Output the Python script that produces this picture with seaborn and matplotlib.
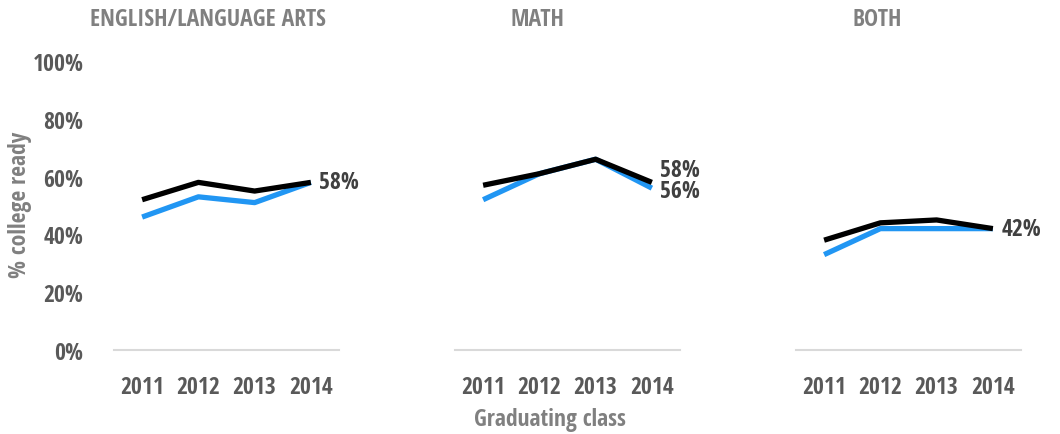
import numpy as np
import pandas as pd
import matplotlib
matplotlib.use("Agg")
import matplotlib.pyplot as plt
from matplotlib import font_manager
import seaborn as sns

years = ["2011", "2012", "2013", "2014"]
subjects = ["ENGLISH/LANGUAGE ARTS", "MATH", "BOTH"]
blue_series = {
    "ENGLISH/LANGUAGE ARTS": [46, 53, 51, 58],
    "MATH": [52, 61, 66, 56],
    "BOTH": [33, 42, 42, 42],
}
black_series = {
    "ENGLISH/LANGUAGE ARTS": [52, 58, 55, 58],
    "MATH": [57, 61, 66, 58],
    "BOTH": [38, 44, 45, 42],
}
y_ticks = [0, 20, 40, 60, 80, 100]
y_tick_labels = ["0%", "20%", "40%", "60%", "80%", "100%"]

sns.set_theme(style="white")
names = {f.name for f in font_manager.fontManager.ttflist}
fam = "DejaVu Sans"
for cand in ["Open Sans Condensed", "Roboto Condensed", "Barlow Semi Condensed",
             "Asap Condensed", "Archivo Narrow", "Liberation Sans Narrow"]:
    if cand in names:
        fam = cand
        break
plt.rcParams["font.family"] = [fam, "DejaVu Sans"]
plt.rcParams["font.weight"] = "bold"

rows = []
for s in subjects:
    for i, y in enumerate(years):
        rows.append({"subject": s, "x": i, "series": "blue", "value": blue_series[s][i]})
        rows.append({"subject": s, "x": i, "series": "black", "value": black_series[s][i]})
df = pd.DataFrame(rows)

fig = plt.figure(figsize=(10.6, 4.35), dpi=100)
W, H = 1060, 435
bottom = 1 - 351 / H
top = 1 - 62 / H
lefts = [114, 455, 796]
aw = 225
axes = [fig.add_axes([l / W, bottom, aw / W, top - bottom]) for l in lefts]

tick_color = "#595959"
title_color = "#808080"
ann_color = "#404040"
blue = "#2196F3"
fs = 17

for k, (ax, s) in enumerate(zip(axes, subjects)):
    d = df[df.subject == s]
    sns.lineplot(data=d, x="x", y="value", hue="series", hue_order=["blue", "black"],
                 palette={"blue": blue, "black": "#000000"}, linewidth=3.8,
                 legend=False, ax=ax, solid_capstyle="butt")
    ax.set_xlim(-0.5, 3.5)
    ax.set_ylim(0, 100)
    ax.set_xticks(range(len(years)))
    ax.set_xticklabels(years, fontsize=fs, color=tick_color, fontweight="bold")
    ax.tick_params(axis="x", length=0, pad=18)
    ax.set_xlabel("")
    ax.set_ylabel("")
    for sp in ["top", "right", "left"]:
        ax.spines[sp].set_visible(False)
    ax.spines["bottom"].set_color("#d9d9d9")
    ax.spines["bottom"].set_linewidth(1.5)
    ax.patch.set_alpha(0)
    if k == 0:
        ax.set_yticks(y_ticks)
        ax.set_yticklabels(y_tick_labels, fontsize=fs, color=tick_color, fontweight="bold")
        ax.tick_params(axis="y", length=0, pad=22)
    else:
        ax.set_yticks([])

def endlabel(ax, val, text, dy=0):
    ax.annotate(text, xy=(3, val), xytext=(6, dy), textcoords="offset points",
                ha="left", va="center", fontsize=fs, color=ann_color, fontweight="bold")

endlabel(axes[0], black_series["ENGLISH/LANGUAGE ARTS"][3], "58%")
endlabel(axes[1], black_series["MATH"][3], "58%", dy=9)
endlabel(axes[1], blue_series["MATH"][3], "56%", dy=-2)
endlabel(axes[2], black_series["BOTH"][3], "42%")

fig.text(90 / W, 1 - 20 / H, subjects[0], ha="left", va="center", fontsize=fs,
         color=title_color, fontweight="bold")
fig.text(510 / W, 1 - 20 / H, subjects[1], ha="left", va="center", fontsize=fs,
         color=title_color, fontweight="bold")
fig.text(852 / W, 1 - 20 / H, subjects[2], ha="left", va="center", fontsize=fs,
         color=title_color, fontweight="bold")

fig.text(20 / W, 1 - 205 / H, "% college ready", rotation=90, ha="center", va="center",
         fontsize=fs, color=title_color, fontweight="bold")
fig.text(550 / W, 1 - 420 / H, "Graduating class", ha="center", va="center",
         fontsize=fs, color=title_color, fontweight="bold")

fig.savefig("out.png", dpi=100)
